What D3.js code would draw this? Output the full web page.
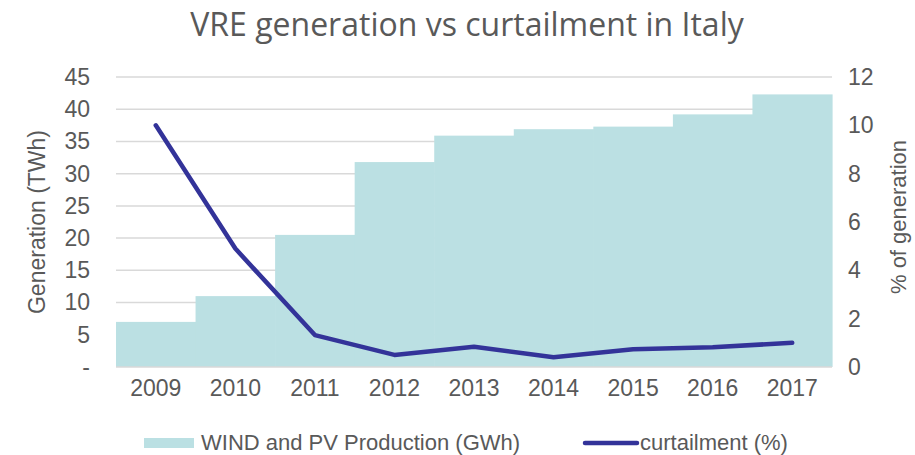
<!DOCTYPE html>
<html><head><meta charset="utf-8">
<script src="https://cdn.jsdelivr.net/npm/d3@7"></script>
<style>body{margin:0;background:#fff;} svg{display:block;}</style>
</head><body>
<svg id="chart" width="915" height="455"></svg>
<script>
const years = ["2009","2010","2011","2012","2013","2014","2015","2016","2017"];
const production = [7.0, 11.0, 20.5, 31.8, 35.9, 36.9, 37.3, 39.2, 42.3];
const curtailment = [10.0, 4.9, 1.32, 0.5, 0.84, 0.4, 0.73, 0.82, 1.0];
const leftTicks = [0,5,10,15,20,25,30,35,40,45];
const rightTicks = [0,2,4,6,8,10,12];

const svg = d3.select("#chart");
const m = {left:116, right:832, top:77, bottom:367};
const x = d3.scaleBand().domain(years).range([m.left, m.right]).padding(0);
const yL = d3.scaleLinear().domain([0,45]).range([m.bottom, m.top]);
const yR = d3.scaleLinear().domain([0,12]).range([m.bottom, m.top]);
const txt = "#595959";
const font = "Liberation Sans, Arial, sans-serif";

// gridlines
svg.append("g").selectAll("line").data(leftTicks.filter(d=>d>0)).join("line")
  .attr("x1", m.left).attr("x2", m.right)
  .attr("y1", d=>yL(d)).attr("y2", d=>yL(d))
  .attr("stroke", "#d9d9d9").attr("stroke-width", 1.5);

// bars
svg.append("g").selectAll("rect").data(years).join("rect")
  .attr("x", d=>x(d)).attr("width", x.bandwidth()+0.6)
  .attr("y", (d,i)=>yL(production[i])).attr("height", (d,i)=>yL(0)-yL(production[i]))
  .attr("fill", "#bbe0e3");

// baseline
svg.append("line").attr("x1", m.left).attr("x2", m.right)
  .attr("y1", yL(0)).attr("y2", yL(0)).attr("stroke", "#d9d9d9").attr("stroke-width", 1.5);

// line
const line = d3.line().x((d,i)=>x(years[i]) + x.bandwidth()/2).y(d=>yR(d));
svg.append("path").datum(curtailment).attr("d", line)
  .attr("fill","none").attr("stroke","#333399").attr("stroke-width",4.5)
  .attr("stroke-linecap","round").attr("stroke-linejoin","round");

// left axis
const axL = d3.axisLeft(yL).tickValues(leftTicks).tickSize(0).tickPadding(0)
  .tickFormat(d=> d===0 ? "-" : d);
const gL = svg.append("g").attr("transform", `translate(90,0)`).call(axL);
gL.select(".domain").remove();
gL.selectAll("text").attr("fill", txt).style("font-family", font).style("font-size","23px");

// right axis
const axR = d3.axisRight(yR).tickValues(rightTicks).tickSize(0).tickPadding(0);
const gR = svg.append("g").attr("transform", `translate(848,0)`).call(axR);
gR.select(".domain").remove();
gR.selectAll("text").attr("fill", txt).style("font-family", font).style("font-size","23px");

// x axis
const axX = d3.axisBottom(x).tickSize(0).tickPadding(0);
const gX = svg.append("g").attr("transform", `translate(0,380)`).call(axX);
gX.select(".domain").remove();
gX.selectAll("text").attr("fill", txt).style("font-family", font).style("font-size","23px");

// title
svg.append("text").attr("x", 467).attr("y", 36).attr("text-anchor","middle")
  .attr("fill", txt).style("font-family","Open Sans, sans-serif").style("font-size","32px")
  .text("VRE generation vs curtailment in Italy");

// axis titles
svg.append("text").attr("transform","translate(45,222) rotate(-90)").attr("text-anchor","middle")
  .attr("fill", txt).style("font-family", font).style("font-size","23px").text("Generation (TWh)");
svg.append("text").attr("transform","translate(906,217) rotate(-90)").attr("text-anchor","middle")
  .attr("fill", txt).style("font-family", font).style("font-size","22px").text("% of generation");

// legend
const lg = svg.append("g");
lg.append("rect").attr("x",144).attr("y",438).attr("width",50).attr("height",10).attr("fill","#bbe0e3");
lg.append("text").attr("x",201).attr("y",450).attr("fill",txt).style("font-family",font).style("font-size","22px")
  .text("WIND and PV Production (GWh)");
lg.append("line").attr("x1",585).attr("x2",637).attr("y1",443).attr("y2",443)
  .attr("stroke","#333399").attr("stroke-width",4.5).attr("stroke-linecap","round");
lg.append("text").attr("x",640).attr("y",450).attr("fill",txt).style("font-family",font).style("font-size","22px")
  .text("curtailment (%)");
</script>
</body></html>
